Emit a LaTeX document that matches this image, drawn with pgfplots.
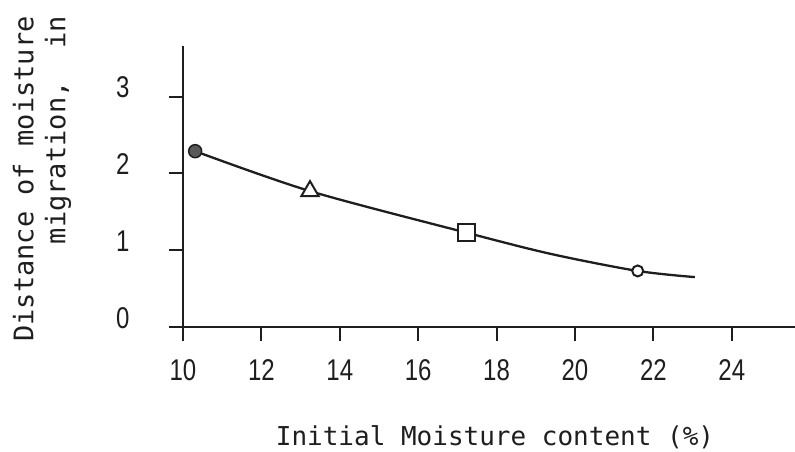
\documentclass[border=0pt]{standalone}
\usepackage{fontspec}
\usepackage{pgfplots}
\pgfplotsset{compat=1.18}
\newfontfamily\labelfont{DejaVu Sans Mono}
\newfontfamily\tickfont[FakeStretch=0.8]{Liberation Sans}
\definecolor{ink}{HTML}{1E1E1E}
\begin{document}
\begin{tikzpicture}
\useasboundingbox (-183pt,-125pt) rectangle (612pt,327pt);
\begin{axis}[
  at={(0pt,0pt)}, anchor=south west,
  scale only axis,
  width=611.5pt, height=281pt,
  xmin=10, xmax=25.6, ymin=0, ymax=3.66,
  axis lines=left,
  axis line style={-, line width=2.4pt, ink},
  xtick={10,12,...,24},
  ytick={0,1,2,3},
  tick align=outside,
  major tick length=14pt,
  tick style={line width=2pt, ink},
  /pgf/number format/assume math mode=true,
  ticklabel style={font=\tickfont\fontsize{30}{36}\selectfont, text=ink},
  xticklabel style={yshift=-15pt},
  yticklabel style={xshift=-36pt, yshift=9pt},
  clip=false,
]
\addplot[ink, line width=2.3pt, smooth] coordinates {
  (10.31,2.29) (13.24,1.77) (17.22,1.23) (19.4,0.95) (21.6,0.73) (23.06,0.65)
};
\addplot[only marks, mark=*, mark size=6.5pt, draw=ink, fill=black!65, line width=1.5pt] coordinates {(10.31,2.29)};
\addplot[only marks, mark=triangle*, mark size=10pt, draw=ink, fill=white, line width=2pt] coordinates {(13.24,1.77)};
\addplot[only marks, mark=square*, mark size=8.5pt, draw=ink, fill=white, line width=2pt] coordinates {(17.22,1.23)};
\addplot[only marks, mark=*, mark size=5.5pt, draw=ink, fill=white, line width=2pt] coordinates {(21.6,0.73)};
\end{axis}
\node[text=ink, font=\labelfont\fontsize{26}{32}\selectfont] at (312pt,-110pt) {Initial Moisture content (\%)};
\node[text=ink, rotate=90, align=right, font=\labelfont\fontsize{27}{32}\selectfont] at (-141pt,148pt) {Distance of moisture\\migration,~~in};
\end{tikzpicture}
\end{document}
